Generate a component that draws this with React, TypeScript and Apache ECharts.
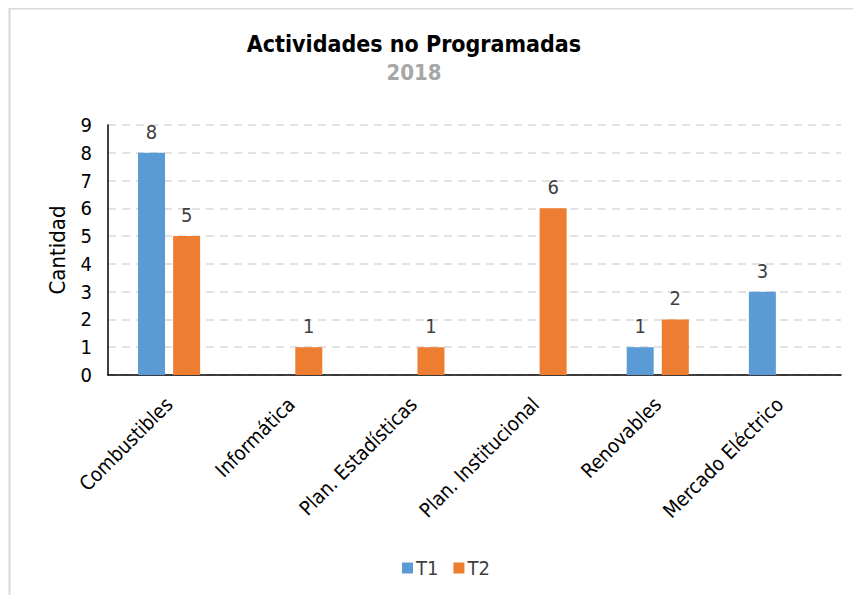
import React, { useEffect, useRef } from "react";
import * as echarts from "echarts";

const categories = [
  "Combustibles",
  "Informática",
  "Plan. Estadísticas",
  "Plan. Institucional",
  "Renovables",
  "Mercado Eléctrico",
];
const t1Values = [8, 0, 0, 0, 1, 3];
const t2Values = [5, 1, 1, 6, 2, 0];
const yTicks = [0, 1, 2, 3, 4, 5, 6, 7, 8, 9];

const FONT = "'Liberation Sans Narrow', 'Arial Narrow', 'DejaVu Sans Condensed', sans-serif";

export default function App() {
  const ref = useRef<HTMLDivElement>(null);
  useEffect(() => {
    if (!ref.current) return;
    const chart = echarts.init(ref.current, null, { renderer: "svg" });
    const labelOpt = {
      show: true,
      position: "top",
      distance: 11,
      fontFamily: FONT,
      fontSize: 20,
      color: "#404040",
      formatter: (p: any) => (p.value ? String(p.value) : ""),
    };
    chart.setOption({
      animation: false,
      textStyle: { fontFamily: FONT },
      title: {
        text: "Actividades no Programadas",
        subtext: "2018",
        left: 401,
        textAlign: "center",
        top: 19,
        itemGap: 6,
        textStyle: { fontFamily: FONT, fontSize: 23, fontWeight: "bold", color: "#000000" },
        subtextStyle: { fontFamily: FONT, fontSize: 22, fontWeight: "bold", color: "#A6A6A6" },
      },
      graphic: [
        {
          type: "rect",
          shape: { x: 1.5, y: 0.5, width: 1000, height: 1000 },
          style: { fill: "none", stroke: "#D9D9D9", lineWidth: 2 },
          silent: true,
        },
      ],
      legend: {
        data: ["T1", "T2"],
        left: 389,
        top: 545,
        itemWidth: 11,
        itemHeight: 11,
        itemGap: 15,
        icon: "rect",
        textStyle: { fontFamily: FONT, fontSize: 20, color: "#404040", padding: [0, 0, 0, -2] },
      },
      grid: { left: 100, right: 20, top: 117, bottom: 220, containLabel: false },
      xAxis: {
        type: "category",
        data: categories,
        axisLine: { lineStyle: { color: "#000000", width: 1.5 } },
        axisTick: { show: false },
        axisLabel: {
          rotate: 45,
          interval: 0,
          margin: 26,
          fontFamily: FONT,
          fontSize: 20,
          color: "#000000",
        },
      },
      yAxis: {
        type: "value",
        min: 0,
        max: 9,
        interval: 1,
        name: "Cantidad",
        nameLocation: "middle",
        nameRotate: 90,
        nameGap: 40,
        nameTextStyle: { fontFamily: FONT, fontSize: 22, color: "#000000" },
        axisLine: { show: true, lineStyle: { color: "#000000", width: 1.5 } },
        axisTick: { show: false },
        axisLabel: {
          margin: 16,
          fontFamily: FONT,
          fontSize: 20,
          color: "#000000",
          formatter: (v: number) => (yTicks.includes(v) ? String(v) : ""),
        },
        splitLine: { show: true, lineStyle: { color: "#D9D9D9", type: [8, 6], width: 1.5 } },
      },
      series: [
        {
          name: "T1",
          type: "bar",
          data: t1Values,
          barWidth: 27,
          barGap: "30%",
          itemStyle: { color: "#5B9BD5" },
          label: labelOpt,
        },
        {
          name: "T2",
          type: "bar",
          data: t2Values,
          barWidth: 27,
          barGap: "30%",
          itemStyle: { color: "#ED7D31" },
          label: labelOpt,
        },
      ],
    });
    return () => chart.dispose();
  }, []);
  return <div ref={ref} style={{ width: 853, height: 587 }} />;
}
